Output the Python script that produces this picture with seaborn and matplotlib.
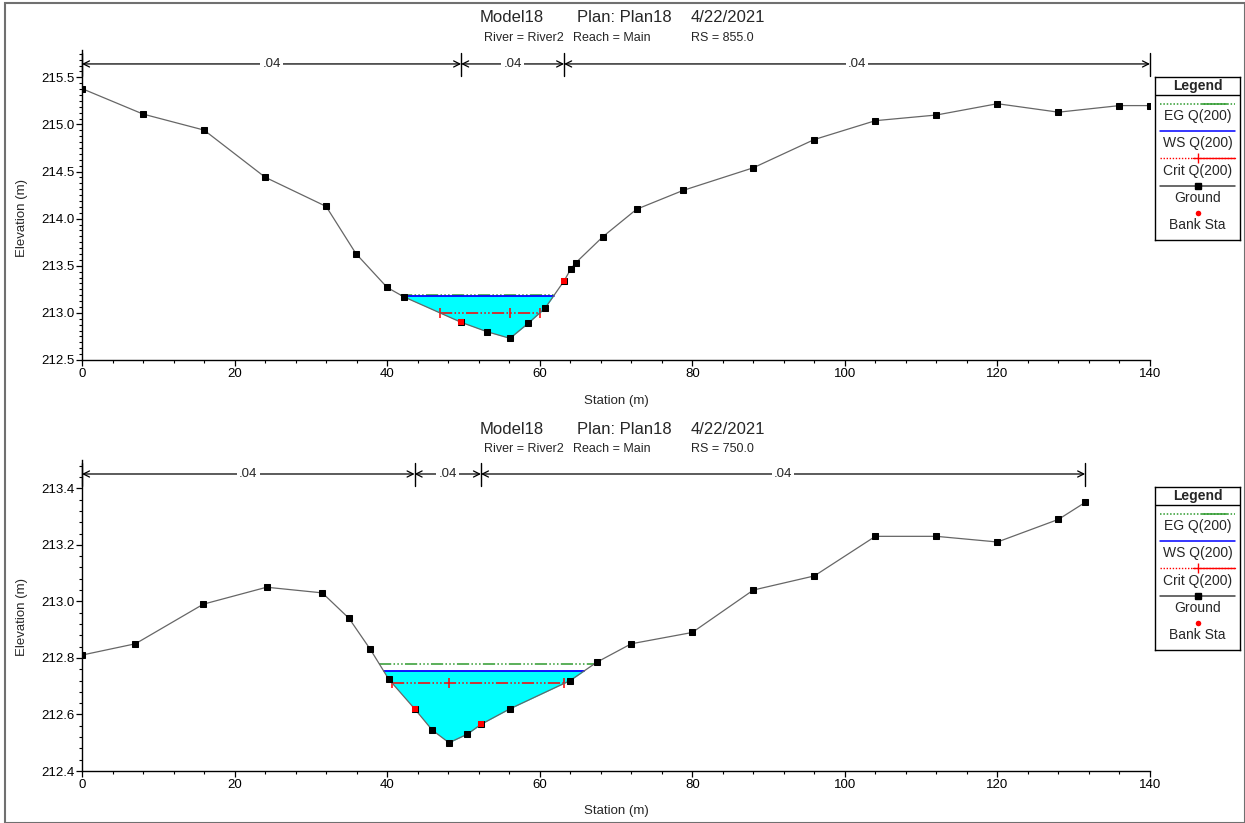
import numpy as np
import matplotlib.pyplot as plt
import matplotlib.transforms as mtransforms
from matplotlib.ticker import MultipleLocator, FormatStrFormatter
from matplotlib.patches import Rectangle
import seaborn as sns

# ---- data: RS 855.0 ----
sta_855 = [0, 8, 16, 24, 32, 35.9, 40, 42.2, 49.7, 53.1, 56.1, 58.5, 60.7, 63.2,
           64.1, 64.7, 68.3, 72.7, 78.8, 88, 96, 104, 112, 120, 128, 136, 140]
elev_855 = [215.38, 215.11, 214.94, 214.44, 214.13, 213.63, 213.27, 213.17, 212.90,
            212.80, 212.73, 212.89, 213.05, 213.34, 213.47, 213.53, 213.81, 214.10,
            214.30, 214.54, 214.84, 215.04, 215.10, 215.22, 215.13, 215.20, 215.20]
bank_sta_855 = [49.7, 63.2]
bank_elev_855 = [212.90, 213.34]
eg_855 = 213.195
ws_855 = 213.18
crit_855 = 213.00
n_breaks_855 = [0, 49.7, 63.2, 140]
n_vals_855 = ['.04', '.04', '.04']

# ---- data: RS 750.0 ----
sta_750 = [0, 7.0, 15.9, 24.2, 31.5, 35.0, 37.8, 40.2, 43.6, 45.9, 48.1, 50.5, 52.3,
           56.1, 64.0, 67.5, 72.0, 80.0, 88.0, 96.0, 104.0, 112.0, 120.0, 128.0, 131.5]
elev_750 = [212.81, 212.85, 212.99, 213.05, 213.03, 212.94, 212.83, 212.725, 212.62,
            212.545, 212.50, 212.53, 212.565, 212.62, 212.72, 212.785, 212.85, 212.89,
            213.04, 213.09, 213.23, 213.23, 213.21, 213.29, 213.35]
bank_sta_750 = [43.6, 52.3]
bank_elev_750 = [212.62, 212.565]
eg_750 = 212.78
ws_750 = 212.754
crit_750 = 212.71
n_breaks_750 = [0, 43.6, 52.3, 131.5]
n_vals_750 = ['.04', '.04', '.04']

sns.set_theme(style='ticks')
plt.rcParams['font.family'] = ['Liberation Sans', 'DejaVu Sans']

W, H = 1245, 823
fig = plt.figure(figsize=(W / 100, H / 100), dpi=100)

EG_COLOR = '#2e9a2e'
WS_COLOR = '#0000ff'
CRIT_COLOR = '#ff0000'
GROUND_COLOR = '#666666'
DASH = (8, 1.5, 1, 1.5, 1, 1.5, 1, 1.5)


def crossings(x, y, level):
    x = np.asarray(x, float)
    y = np.asarray(y, float)
    i0 = int(np.argmin(y))
    i = i0
    while i > 0 and y[i - 1] < level:
        i -= 1
    xl = np.interp(level, [y[i], y[i - 1]], [x[i], x[i - 1]])
    j = i0
    while j < len(y) - 1 and y[j + 1] < level:
        j += 1
    xr = np.interp(level, [y[j], y[j + 1]], [x[j], x[j + 1]])
    return xl, x[i0], xr


def fig_rect(left, top, right, bottom):
    return [left / W, 1 - bottom / H, (right - left) / W, (bottom - top) / H]


def draw_panel(ax, sta, elev, bsta, belev, eg, ws, crit, breaks, nvals,
               ylim, major, minor):
    sta = np.asarray(sta, float)
    elev = np.asarray(elev, float)

    ax.fill_between(sta, elev, ws, where=elev < ws, interpolate=True,
                    color='#00ffff', lw=0, zorder=1)

    xl, xm, xr = crossings(sta, elev, eg)
    ax.plot([xl, xr], [eg, eg], color=EG_COLOR, lw=1.1, dashes=DASH, zorder=3)
    xl, xm, xr = crossings(sta, elev, ws)
    ax.plot([xl, xr], [ws, ws], color=WS_COLOR, lw=1.3, zorder=3)
    xl, xm, xr = crossings(sta, elev, crit)
    ax.plot([xl, xm, xr], [crit] * 3, color=CRIT_COLOR, lw=1.1, dashes=DASH,
            marker='|', markersize=7, markeredgewidth=1.1, zorder=3)

    sns.lineplot(x=sta, y=elev, ax=ax, color=GROUND_COLOR, lw=0.9,
                 marker='s', markersize=4.3, markerfacecolor='black',
                 markeredgecolor='black', estimator=None, zorder=4)
    sns.scatterplot(x=bsta, y=belev, ax=ax, color=CRIT_COLOR, marker='s',
                    s=20, edgecolor=CRIT_COLOR, linewidth=0, zorder=5)

    ax.set_xlim(0, 140)
    ax.set_ylim(*ylim)
    ax.xaxis.set_major_locator(MultipleLocator(20))
    ax.xaxis.set_minor_locator(MultipleLocator(4))
    ax.yaxis.set_major_locator(MultipleLocator(major))
    ax.yaxis.set_minor_locator(MultipleLocator(minor))
    ax.yaxis.set_major_formatter(FormatStrFormatter('%.1f'))
    ax.tick_params(which='major', direction='out', length=4, width=0.9,
                   labelsize=9.5, pad=1.5, colors='black')
    ax.tick_params(which='minor', direction='out', length=2.5, width=0.8,
                   colors='black')
    for side in ['top', 'right']:
        ax.spines[side].set_visible(False)
    for side in ['left', 'bottom']:
        ax.spines[side].set_color('black')
        ax.spines[side].set_linewidth(1.0)
    ax.set_xlabel('')
    ax.set_ylabel('')

    # Manning's n bar
    trans = mtransforms.blended_transform_factory(ax.transData, ax.transAxes)
    yf = 0.955
    for a, b, lab in zip(breaks[:-1], breaks[1:], nvals):
        ax.annotate('', xy=(a, yf), xytext=(b, yf), xycoords=trans,
                    textcoords=trans,
                    arrowprops=dict(arrowstyle='<->', lw=0.9, color='black',
                                    shrinkA=0, shrinkB=0, mutation_scale=11))
        ax.text((a + b) / 2, yf, lab, transform=trans, ha='center', va='center',
                fontsize=9.5, bbox=dict(fc='white', ec='none', pad=1.5))
    for b in breaks:
        ax.plot([b, b], [0.915, 0.99], transform=trans, color='black', lw=1.0,
                clip_on=False)


def draw_legend(lax):
    lax.set_xlim(0, 1)
    lax.set_ylim(1, 0)
    lax.set_xticks([])
    lax.set_yticks([])
    for s in lax.spines.values():
        s.set_visible(True)
        s.set_color('black')
        s.set_linewidth(1.0)
    lax.set_facecolor('white')
    fs = 10
    lax.text(0.5, 0.055, 'Legend', ha='center', va='center', fontsize=fs,
             fontweight='bold')
    lax.plot([0, 1], [0.11, 0.11], color='black', lw=1.0)
    lax.plot([0.06, 0.94], [0.166, 0.166], color=EG_COLOR, lw=1.1, dashes=(1, 1.2))
    lax.plot([0.55, 0.85], [0.166, 0.166], color=EG_COLOR, lw=1.1)
    lax.text(0.5, 0.24, 'EG Q(200)', ha='center', va='center', fontsize=fs)
    lax.plot([0.06, 0.94], [0.331, 0.331], color=WS_COLOR, lw=1.1)
    lax.text(0.5, 0.405, 'WS Q(200)', ha='center', va='center', fontsize=fs)
    lax.plot([0.06, 0.94], [0.497, 0.497], color=CRIT_COLOR, lw=1.0, dashes=(1, 1.2))
    lax.plot([0.45, 0.94], [0.497, 0.497], color=CRIT_COLOR, lw=1.0)
    lax.plot([0.5], [0.497], color=CRIT_COLOR, marker='|', markersize=7,
             markeredgewidth=1.0)
    lax.text(0.5, 0.577, 'Crit Q(200)', ha='center', va='center', fontsize=fs)
    lax.plot([0.06, 0.94], [0.669, 0.669], color='#404040', lw=1.1)
    lax.plot([0.5], [0.669], color='black', marker='s', markersize=5)
    lax.text(0.5, 0.742, 'Ground', ha='center', va='center', fontsize=fs)
    lax.plot([0.5], [0.834], color=CRIT_COLOR, marker='o', markersize=4,
             markeredgewidth=0)
    lax.text(0.5, 0.908, 'Bank Sta', ha='center', va='center', fontsize=fs)


def draw_titles(y1, y2, rs):
    fig.text(480 / W, 1 - y1 / H, 'Model18', fontsize=12, va='center')
    fig.text(577 / W, 1 - y1 / H, 'Plan: Plan18', fontsize=12, va='center')
    fig.text(691 / W, 1 - y1 / H, '4/22/2021', fontsize=12, va='center')
    fig.text(484 / W, 1 - y2 / H, 'River = River2', fontsize=9, va='center')
    fig.text(573 / W, 1 - y2 / H, 'Reach = Main', fontsize=9, va='center')
    fig.text(691 / W, 1 - y2 / H, 'RS = ' + rs, fontsize=9, va='center')


ax1 = fig.add_axes(fig_rect(82, 50, 1150, 360))
draw_panel(ax1, sta_855, elev_855, bank_sta_855, bank_elev_855, eg_855, ws_855,
           crit_855, n_breaks_855, n_vals_855, (212.5, 215.79), 0.5, 0.0625)
ax2 = fig.add_axes(fig_rect(82, 460, 1150, 771))
draw_panel(ax2, sta_750, elev_750, bank_sta_750, bank_elev_750, eg_750, ws_750,
           crit_750, n_breaks_750, n_vals_750, (212.4, 213.5), 0.2, 0.04)

draw_legend(fig.add_axes(fig_rect(1155, 77, 1240, 240)))
draw_legend(fig.add_axes(fig_rect(1155, 487, 1240, 650)))

draw_titles(17, 38, '855.0')
draw_titles(430, 449, '750.0')

for yy in [401, 811]:
    fig.text(616 / W, 1 - yy / H, 'Station (m)', fontsize=9.5, ha='center',
             va='center')
for yy in [218, 617]:
    fig.text(22 / W, 1 - yy / H, 'Elevation (m)', fontsize=9.5, ha='center',
             va='center', rotation=90)

fig.patches.append(Rectangle((5 / W, 0), 1 - 5 / W, 1 - 3 / H,
                             transform=fig.transFigure, fill=False,
                             ec='#707070', lw=1.5))

fig.savefig('out.png', dpi=100)
